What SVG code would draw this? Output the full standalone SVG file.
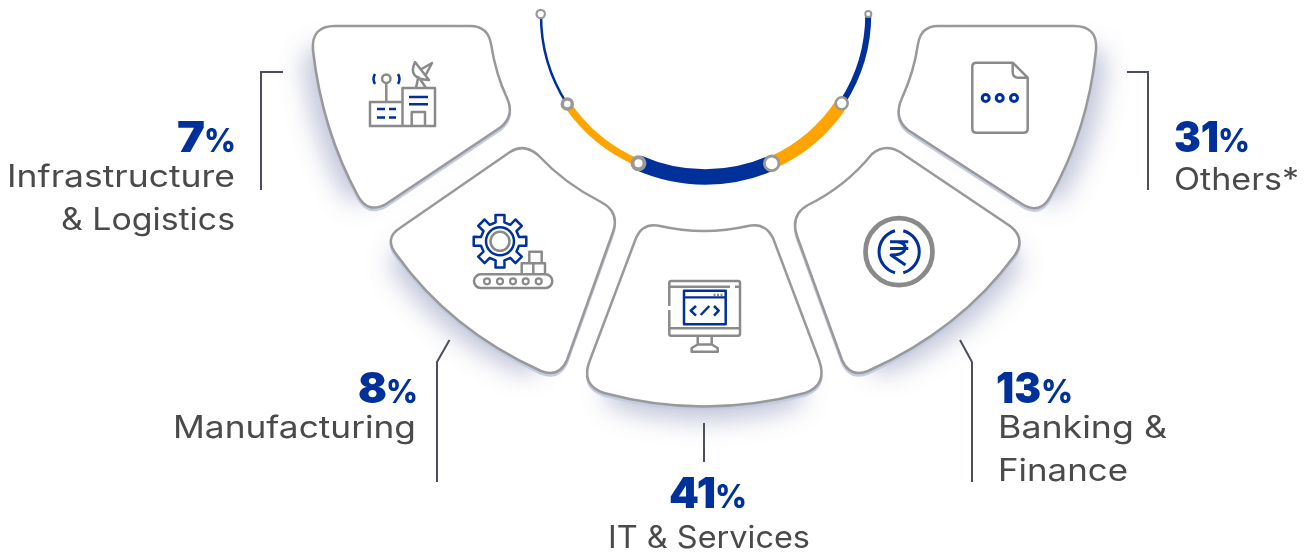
<svg xmlns="http://www.w3.org/2000/svg" xmlns:xlink="http://www.w3.org/1999/xlink" width="1309" height="553" viewBox="0 0 1309 553">
<style>
.card{fill:#fff;stroke:#999;stroke-width:2.5}
.edge{fill:#c4cce0;stroke:#c4cce0;stroke-width:2.5}
.shade{fill:#6f78a8;opacity:.42}
.g{fill:none;stroke:#8a8a8a;stroke-width:2.2;stroke-linejoin:round}
.b{fill:none;stroke:#00309a;stroke-width:2.2;stroke-linejoin:round}
.w25{stroke-width:2.5}
.w3{stroke-width:3}
.w5{stroke-width:4.8}
.lead{fill:none;stroke:#4b4e5c;stroke-width:2}
.lab{font-family:"Inter","Liberation Sans",sans-serif;font-size:30.5px;fill:#4a4a4a}
.num{font-family:"Inter","Liberation Sans",sans-serif;font-size:42px;font-weight:900;fill:#00309a}
.pct{font-family:"Inter","Liberation Sans",sans-serif;font-size:32px;font-weight:800;fill:#00309a}
.arc{fill:none}
.dot{fill:#fff;stroke:#999}
</style>
<defs>
<filter id="blur" x="-30%" y="-30%" width="160%" height="160%"><feGaussianBlur stdDeviation="12"/></filter>
<path id="c1" d="M335 26 L470 26 Q488 26 491 44 Q496 75 507 98 Q515 115 501 127 L386 204 Q368 214 358 196 Q322 130 313 50 Q311 26 335 26 Z"/>
<path id="c2" d="M510 152 Q524 143 538 155 Q565 184 601 202 Q620 212 613 232 L567 360 Q559 378 541 371 Q450 330 396 254 Q384 238 400 228 Z"/>
<path id="c3" d="M636 238 Q643 222 660 226 Q704 236 748 226 Q765 222 773 238 L819 360 Q828 385 805 393 Q704 420 604 393 Q580 385 590 360 Z"/>
<path id="c4" d="M872 154 Q885 143 900 152 L1010 226 Q1026 238 1015 255 Q960 330 868 371 Q850 378 842 360 L797 236 Q790 215 808 205 Q845 187 872 154 Z"/>
<path id="c5" d="M938 26 L1074 26 Q1098 26 1096 50 Q1088 130 1050 197 Q1040 215 1022 204 L908 130 Q893 118 902 98 Q914 72 918 44 Q921 26 938 26 Z"/>
</defs>
<rect width="1309" height="553" fill="#fff"/>
<g id="shadows" filter="url(#blur)">
<use xlink:href="#c1" class="shade" transform="translate(386 123) scale(.85) translate(-410 -115)"/>
<use xlink:href="#c2" class="shade" transform="translate(487 278) scale(.85) translate(-505 -260)"/>
<use xlink:href="#c3" class="shade" transform="translate(705 343) scale(.85) translate(-705 -315)"/>
<use xlink:href="#c4" class="shade" transform="translate(923 278) scale(.85) translate(-905 -260)"/>
<use xlink:href="#c5" class="shade" transform="translate(1024 123) scale(.85) translate(-1000 -115)"/>
</g>
<g id="connectors">
<path class="lead" d="M283 72H261V190"/>
<path class="lead" d="M449.500 340L437 362V482"/>
<path class="lead" d="M704 423V462"/>
<path class="lead" d="M960 340L972 362V482"/>
<path class="lead" d="M1127 72H1148V190"/>
</g>
<g id="gauge">
<path class="arc" stroke="#00309a" stroke-width="2.500" d="M541 14A164 164 0 0 0 567 104"/>
<path class="arc" stroke="#ffa400" stroke-width="7.500" d="M567 104A164 164 0 0 0 639 163"/>
<path class="arc" stroke="#00309a" stroke-width="15.500" d="M639 163A164 164 0 0 0 771.500 163"/>
<path class="arc" stroke="#ffa400" stroke-width="13" d="M771.500 163A164 164 0 0 0 842 103"/>
<path class="arc" stroke="#00309a" stroke-width="6" d="M842 103A164 164 0 0 0 868.300 14"/>
<circle class="dot" cx="540.700" cy="14" r="4.200" stroke-width="2.200"/>
<circle class="dot" cx="567.300" cy="104" r="5" stroke-width="3.500"/>
<circle class="dot" cx="638.500" cy="163.300" r="6" stroke-width="4"/>
<circle class="dot" cx="771.700" cy="163.300" r="7.300" stroke-width="2.800"/>
<circle class="dot" cx="841.700" cy="103.300" r="6" stroke-width="2.500"/>
<circle class="dot" cx="868.300" cy="14" r="3" stroke-width="2"/>
</g>
<g id="node-infrastructure">
<use xlink:href="#c1" class="edge" transform="translate(0 2.500)"/>
<use xlink:href="#c1" class="card"/>
<path class="g w25" d="M370 102H402.500V126H370ZM402.500 88H435V126H402.500ZM411.700 126V112H425V126M386.300 102V83"/>
<circle class="g w25" cx="386.300" cy="78.700" r="4.200"/>
<path class="g w25" d="M415 62Q407 79 429 80ZM421.500 69L432 63L426 74.500M416 88L418.500 76M426 88L420 79"/>
<path class="b w25" d="M409 97H428M409 104.300H428M377 109H385M389 109H396M377 117.500H385M389 117.500H396M375 74Q372 79 375 84M398 74Q401 79 398 84"/>
<text class="lab" x="7" y="187" textLength="228" lengthAdjust="spacingAndGlyphs">Infrastructure</text>
<text class="lab" x="61" y="230" textLength="174" lengthAdjust="spacingAndGlyphs">&amp; Logistics</text>
<text class="num" x="177" y="152" textLength="28" lengthAdjust="spacingAndGlyphs">7</text>
<text class="pct" x="204" y="152" textLength="32" lengthAdjust="spacingAndGlyphs">%</text>
</g>
<g id="node-manufacturing">
<use xlink:href="#c2" class="edge" transform="translate(0 2.500)"/>
<use xlink:href="#c2" class="card"/>
<path class="b w25" transform="translate(500 241.300)" d="M19 -4.400L26.300 -4.500L26.300 4.500L19 4.400L16.500 10.300L21.800 15.400L15.400 21.800L10.300 16.500L4.400 19L4.500 26.300L-4.500 26.300L-4.400 19L-10.300 16.500L-15.400 21.800L-21.800 15.400L-16.500 10.300L-19 4.400L-26.300 4.500L-26.300 -4.500L-19 -4.400L-16.500 -10.300L-21.800 -15.400L-15.400 -21.800L-10.300 -16.500L-4.400 -19L-4.500 -26.300L4.500 -26.300L4.400 -19L10.300 -16.500L15.400 -21.800L21.800 -15.400L16.500 -10.300Z"/>
<circle class="b w25" cx="500" cy="241.300" r="14"/>
<circle class="g w25" cx="500" cy="241.300" r="9.500"/>
<rect class="g w25" x="474" y="274.300" width="78.300" height="13.700" rx="6.800"/>
<circle class="g" cx="487" cy="281.300" r="3"/><circle class="g" cx="500" cy="281.300" r="3"/><circle class="g" cx="513" cy="281.300" r="3"/><circle class="g" cx="525.700" cy="281.300" r="3"/><circle class="g" cx="538.700" cy="281.300" r="3"/>
<path class="g w25" d="M521.700 274.300V263.300H545V274.300M533.300 263.300V274.300M529.300 263.300V251.700H541.700V263.300"/>
<text class="lab" x="173" y="438" textLength="243" lengthAdjust="spacingAndGlyphs">Manufacturing</text>
<text class="num" x="358" y="403" textLength="29" lengthAdjust="spacingAndGlyphs">8</text>
<text class="pct" x="386" y="403" textLength="32" lengthAdjust="spacingAndGlyphs">%</text>
</g>
<g id="node-it">
<use xlink:href="#c3" class="edge" transform="translate(0 2.500)"/>
<use xlink:href="#c3" class="card"/>
<path class="g w25" d="M669.300 306V283Q669.300 281 671.300 281H738Q740 281 740 283V333.700Q740 335.700 738 335.700H671.300Q669.300 335.700 669.300 333.700V310M669.300 286.700H730M735 286.700H740M669.300 328.300H740M697.700 335.700V344.500M711.700 335.700V344.500M691.700 351.700V348L697.700 344.500H711.700L717.700 348V351.700Z"/>
<rect class="b w25" x="684" y="290.700" width="41.700" height="33.600"/>
<path class="b" d="M684 297.300H725.700"/>
<path class="b w25" d="M696 306L690.700 310.700L696 315.700M714 306L718.700 310.700L714 315.700M700.700 315L709.300 306"/>
<path class="g" stroke-dasharray="2 1.500" d="M713.500 294.800H723"/>
<text class="lab" x="608" y="548" textLength="202" lengthAdjust="spacingAndGlyphs">IT &amp; Services</text>
<text class="num" x="669" y="508" textLength="47" lengthAdjust="spacingAndGlyphs">41</text>
<text class="pct" x="715" y="508" textLength="32" lengthAdjust="spacingAndGlyphs">%</text>
</g>
<g id="node-banking">
<use xlink:href="#c4" class="edge" transform="translate(0 2.500)"/>
<use xlink:href="#c4" class="card"/>
<circle class="g w5" cx="899" cy="251.700" r="33.500"/>
<path class="b w3" d="M895 230.700A21.800 21.800 0 0 0 895 272.700M903.300 230.700A21.800 21.800 0 0 1 903.300 272.700"/>
<path class="b w3" d="M890 241.700H908.300M890 248.500H908.300M897 241.700Q906 243 905 248.500Q904 255 891 255L905.500 265"/>
<text class="lab" x="998" y="438" textLength="169" lengthAdjust="spacingAndGlyphs">Banking &amp;</text>
<text class="lab" x="998" y="481" textLength="130" lengthAdjust="spacingAndGlyphs">Finance</text>
<text class="num" x="996" y="403" textLength="45" lengthAdjust="spacingAndGlyphs">13</text>
<text class="pct" x="1041" y="403" textLength="32" lengthAdjust="spacingAndGlyphs">%</text>
</g>
<g id="node-others">
<use xlink:href="#c5" class="edge" transform="translate(0 2.500)"/>
<use xlink:href="#c5" class="card"/>
<path class="g w25" d="M976.300 62.700H1012.700L1027.700 77.700V128.700Q1027.700 132.700 1023.700 132.700H976.300Q972.300 132.700 972.300 128.700V66.700Q972.300 62.700 976.300 62.700ZM1012.700 62.700V72Q1012.700 77.700 1018.400 77.700H1027.700"/>
<circle class="b w3" cx="985.700" cy="98" r="3.500"/>
<circle class="b w3" cx="999.700" cy="98" r="3.500"/>
<circle class="b w3" cx="1014" cy="98" r="3.500"/>
<text class="lab" x="1174" y="190" textLength="125" lengthAdjust="spacingAndGlyphs">Others*</text>
<text class="num" x="1174" y="152" textLength="45" lengthAdjust="spacingAndGlyphs">31</text>
<text class="pct" x="1218" y="152" textLength="32" lengthAdjust="spacingAndGlyphs">%</text>
</g>
</svg>
